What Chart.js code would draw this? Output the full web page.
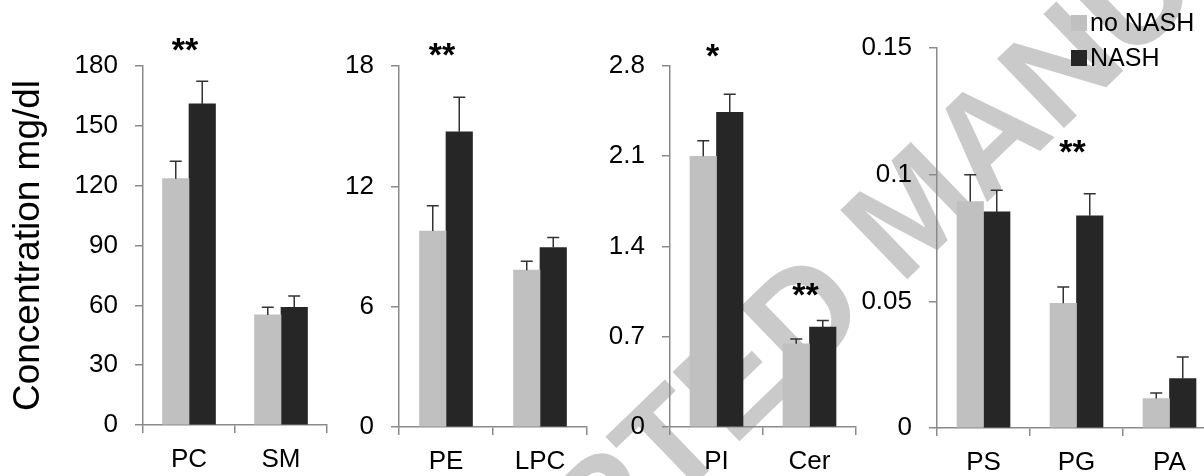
<!DOCTYPE html>
<html>
<head>
<meta charset="utf-8">
<script src="https://cdn.jsdelivr.net/npm/chart.js@4.4.0/dist/chart.umd.min.js"></script>
<style>
  body { margin: 0; background: #fff; width: 1204px; height: 476px; overflow: hidden; position: relative; }
  canvas { position: absolute; top: 0; }
  #wm {
    position: absolute; left: 912px; top: 208px;
    transform: translate(-50%, -50%) rotate(-44deg);
    font: bold 140px "Liberation Sans", Arial, sans-serif;
    color: #cacaca; white-space: nowrap; line-height: 1;
  }
</style>
</head>
<body>
<div id="wm">ACCEPTED MANUSCRIPT</div>
<canvas id="c1" width="330" height="476" style="left:0px"></canvas>
<canvas id="c2" width="260" height="476" style="left:330px"></canvas>
<canvas id="c3" width="260" height="476" style="left:600px"></canvas>
<canvas id="c4" width="362" height="476" style="left:860px"></canvas>
<script>
// series names
const seriesNames = ['no NASH', 'NASH'];
const yTitle = 'Concentration mg/dl';

// panel 1
const cats1 = ['PC', 'SM'];
const noNash1 = [123.5, 55.2];
const noNashErr1 = [8.7, 3.8];
const nash1 = [161, 59];
const nashErr1 = [11.3, 5.7];
const sig1 = ['**', ''];
const sigAt1 = [192, null];
const yMax1 = 180, yStep1 = 30;

// panel 2
const cats2 = ['PE', 'LPC'];
const noNash2 = [9.77, 7.82];
const noNashErr2 = [1.26, 0.45];
const nash2 = [14.72, 8.95];
const nashErr2 = [1.72, 0.5];
const sig2 = ['**', ''];
const sigAt2 = [18.95, null];
const yMax2 = 18, yStep2 = 6;

// panel 3
const cats3 = ['PI', 'Cer'];
const noNash3 = [2.1, 0.646];
const noNashErr3 = [0.12, 0.036];
const nash3 = [2.44, 0.775];
const nashErr3 = [0.14, 0.051];
const sig3 = ['*', '**'];
const sigAt3 = [2.94, 1.088];
const yMax3 = 2.8, yStep3 = 0.7;

// panel 4
const cats4 = ['PS', 'PG', 'PA'];
const noNash4 = [0.0894, 0.0492, 0.0116];
const noNashErr4 = [0.0106, 0.0065, 0.0022];
const nash4 = [0.0853, 0.0838, 0.0195];
const nashErr4 = [0.0085, 0.0087, 0.0085];
const sig4 = ['', '**', ''];
const sigAt4 = [null, 0.1122, null];
const yMax4 = 0.15, yStep4 = 0.05;

const FONT = '"Liberation Sans", Arial, sans-serif';
Chart.defaults.font.family = FONT;
Chart.defaults.color = '#000';

const lightColor = '#c0c0c0';
const darkColor = '#262626';
const axisColor = '#8a8a8a';

// error bars, drawn from the dataset's err array
const errorBars = {
  id: 'errorBars',
  afterDatasetsDraw(chart) {
    const ctx = chart.ctx;
    const y = chart.scales.y;
    ctx.save();
    ctx.strokeStyle = '#333';
    ctx.lineWidth = 1.5;
    chart.data.datasets.forEach((ds, di) => {
      const meta = chart.getDatasetMeta(di);
      meta.data.forEach((bar, i) => {
        const top = y.getPixelForValue(ds.data[i] + ds.err[i]);
        ctx.beginPath();
        ctx.moveTo(bar.x, bar.y);
        ctx.lineTo(bar.x, top);
        ctx.moveTo(bar.x - 6, top);
        ctx.lineTo(bar.x + 6, top);
        ctx.stroke();
      });
    });
    ctx.restore();
  }
};

// significance stars
const sigMarks = {
  id: 'sigMarks',
  afterDatasetsDraw(chart, args, opts) {
    const ctx = chart.ctx;
    const x = chart.scales.x, y = chart.scales.y;
    ctx.save();
    ctx.font = 'bold 34px ' + FONT;
    ctx.fillStyle = '#000';
    ctx.textAlign = 'center';
    ctx.textBaseline = 'alphabetic';
    opts.text.forEach((t, i) => {
      if (!t) return;
      ctx.fillText(t, x.getPixelForValue(i) - 4, y.getPixelForValue(opts.at[i]) + 19);
    });
    ctx.restore();
  }
};

// legend at the top right of the last panel
const cornerLegend = {
  id: 'cornerLegend',
  afterDraw(chart, args, opts) {
    if (!opts.show) return;
    const ctx = chart.ctx;
    const area = chart.chartArea;
    ctx.save();
    ctx.font = '25px ' + FONT;
    ctx.textBaseline = 'middle';
    chart.data.datasets.forEach((ds, i) => {
      const cy = area.top - 25 + i * 35;
      const sx = area.right - 145;
      ctx.fillStyle = ds.backgroundColor;
      ctx.fillRect(sx, cy - 8, 16, 16);
      ctx.fillStyle = '#000';
      ctx.fillText(ds.label, sx + 19, cy + 1);
    });
    ctx.restore();
  }
};

function makePanel(id, cats, a, aErr, b, bErr, sig, sigAt, yMax, yStep, box, showTitle, showLegend) {
  new Chart(document.getElementById(id), {
    type: 'bar',
    data: {
      labels: cats,
      datasets: [
        { label: seriesNames[0], data: a, err: aErr, backgroundColor: lightColor, borderWidth: 0, barThickness: 26.5 },
        { label: seriesNames[1], data: b, err: bErr, backgroundColor: darkColor, borderWidth: 0, barThickness: 26.5 }
      ]
    },
    options: {
      responsive: false,
      animation: false,
      layout: { autoPadding: false, padding: { top: box.top, right: box.right, left: 0, bottom: 0 } },
      plugins: {
        legend: { display: false },
        tooltip: { enabled: false },
        sigMarks: { text: sig, at: sigAt },
        cornerLegend: { show: showLegend }
      },
      scales: {
        x: {
          grid: { drawOnChartArea: false, drawTicks: true, tickLength: 8, color: axisColor, lineWidth: 1.5, offset: true },
          border: { color: axisColor, width: 1.5 },
          ticks: { font: { size: 26 }, color: '#000', padding: 11, maxRotation: 0 },
          afterFit: s => { s.height = box.xh; }
        },
        y: {
          min: 0, max: yMax,
          grid: { drawOnChartArea: false, drawTicks: true, tickLength: 8, color: axisColor, lineWidth: 1.5 },
          border: { color: axisColor, width: 1.5 },
          ticks: {
            stepSize: yStep, font: { size: 26 }, color: '#000', padding: 17,
            callback: v => String(parseFloat(v.toFixed(4)))
          },
          title: {
            display: showTitle, text: yTitle, color: '#000',
            font: { size: 37 }, padding: { top: 7, bottom: 0 }
          },
          afterFit: s => { s.width = box.yw; }
        }
      }
    },
    plugins: [errorBars, sigMarks, cornerLegend]
  });
}

makePanel('c1', cats1, noNash1, noNashErr1, nash1, nashErr1, sig1, sigAt1, yMax1, yStep1,
  { top: 66, right: 3, yw: 143, xh: 51 }, true, false);
makePanel('c2', cats2, noNash2, noNashErr2, nash2, nashErr2, sig2, sigAt2, yMax2, yStep2,
  { top: 66, right: 3, yw: 69, xh: 49 }, false, false);
makePanel('c3', cats3, noNash3, noNashErr3, nash3, nashErr3, sig3, sigAt3, yMax3, yStep3,
  { top: 66, right: 4, yw: 70, xh: 49 }, false, false);
makePanel('c4', cats4, noNash4, noNashErr4, nash4, nashErr4, sig4, sigAt4, yMax4, yStep4,
  { top: 48, right: 6, yw: 77, xh: 48 }, false, true);
</script>
</body>
</html>
